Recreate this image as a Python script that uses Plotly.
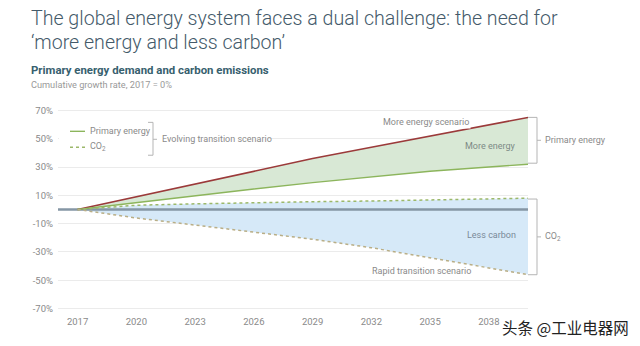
import plotly.graph_objects as go

# ---- data ----
years = [2017, 2020, 2023, 2026, 2029, 2032, 2035, 2038, 2040]
more_energy_scn = [0, 9, 18, 27, 36, 44, 52, 60, 65]
primary_et = [0, 5, 10, 14.5, 19, 23, 27, 30, 32]
co2_et = [0, 3, 4, 5, 5.5, 6, 7, 7.5, 8]
rapid_transition = [0, -6, -11, -16, -21, -27, -34, -41, -46]
x_ticks = [2017, 2020, 2023, 2026, 2029, 2032, 2035, 2038]
y_ticks = [-70, -50, -30, -10, 10, 30, 50, 70]
y_tick_text = ["-70%", "-50%", "-30%", "-10%", "10%", "30%", "50%", "70%"]

W, H = 640, 346
L, R = 58, 528
YR = (-71, 71)
PX_PER = 199 / 140.0
T = 110 - (YR[1] - 70) * PX_PER
B = 309 + (-70 - YR[0]) * PX_PER
ML, MR, MT, MB = L, W - R, T, H - B


def px(x):
    return (x - ML) / (W - ML - MR)


def py(y):
    return (H - MB - y) / (H - MT - MB)


GRAY_TXT = "#8a8a8a"
FONT = "Roboto"

fig = go.Figure()

# green fill between more energy scenario and ET primary energy
fig.add_trace(go.Scatter(x=years, y=primary_et, mode="lines", line=dict(width=0),
                         hoverinfo="skip", showlegend=False))
fig.add_trace(go.Scatter(x=years, y=more_energy_scn, mode="lines", line=dict(width=0),
                         fill="tonexty", fillcolor="#d8e8d5", hoverinfo="skip", showlegend=False))
# blue fill between CO2 ET and rapid transition
fig.add_trace(go.Scatter(x=years, y=rapid_transition, mode="lines", line=dict(width=0),
                         hoverinfo="skip", showlegend=False))
fig.add_trace(go.Scatter(x=years, y=co2_et, mode="lines", line=dict(width=0),
                         fill="tonexty", fillcolor="#d6e9f8", hoverinfo="skip", showlegend=False))

# zero line
fig.add_trace(go.Scatter(x=[2016, 2040], y=[0, 0], mode="lines",
                         line=dict(color="#8596a5", width=2.5), showlegend=False, hoverinfo="skip"))

# lines
fig.add_trace(go.Scatter(x=years, y=more_energy_scn, mode="lines",
                         line=dict(color="#9b3a3a", width=1.6), showlegend=False))
fig.add_trace(go.Scatter(x=years, y=primary_et, mode="lines",
                         line=dict(color="#8cb55c", width=1.4), showlegend=False))
fig.add_trace(go.Scatter(x=years, y=co2_et, mode="lines",
                         line=dict(color="#9cb86a", width=1.5, dash="dot"), showlegend=False))
fig.add_trace(go.Scatter(x=years, y=rapid_transition, mode="lines",
                         line=dict(color="#b9ae86", width=1.5, dash="dot"), showlegend=False))

shapes = []
ann = []


def line(x0, y0, x1, y1, color="#b5b5b5", width=1, dash="solid"):
    shapes.append(dict(type="line", xref="paper", yref="paper",
                       x0=px(x0), y0=py(y0), x1=px(x1), y1=py(y1),
                       line=dict(color=color, width=width, dash=dash)))


def text(x, y, s, size=9, color=GRAY_TXT, xanchor="left", bg=None, weight=None, **kw):
    f = dict(family=FONT, size=size, color=color)
    if weight:
        f["weight"] = weight
    d = dict(xref="paper", yref="paper", x=px(x), y=py(y), text=s, showarrow=False,
             xanchor=xanchor, yanchor="middle", font=f, **kw)
    if bg:
        d["bgcolor"] = bg
    ann.append(d)


# legend box (white background covering gridlines)
shapes.append(dict(type="rect", xref="paper", yref="paper", x0=px(59), x1=px(268),
                   y0=py(120), y1=py(157), fillcolor="white", line=dict(width=0), layer="above"))
line(70, 131, 85, 131, color="#8cb55c", width=1.4)
line(70, 147, 85, 147, color="#9cb86a", width=1.5, dash="dot")
text(88, 131, "Primary energy")
text(88, 147, "CO<sub>2</sub>")
# legend bracket
line(148, 122, 153, 122)
line(153, 122, 153, 155)
line(148, 155, 153, 155)
line(153, 139, 157, 139)
text(160, 139, "Evolving transition scenario")

# right brackets
line(528, 117, 537, 117)
line(537, 117, 537, 163)
line(528, 163, 537, 163)
line(537, 140, 541, 140)
text(543, 140, "Primary energy")

line(528, 199, 537, 199)
line(537, 199, 537, 275)
line(528, 275, 537, 275)
line(537, 237, 541, 237)
text(543, 237, "CO<sub>2</sub>")

# in-plot labels
text(426, 122, "More energy scenario", xanchor="center", bg="white")
text(490, 146, "More energy", color="#7d8a86", xanchor="center")
text(491, 235, "Less carbon", color="#7a8a99", xanchor="center")
text(421, 271, "Rapid transition scenario", xanchor="center")

# titles
text(29, 18, "The global energy system faces a dual challenge: the need for",
     size=19.6, color="#445a6a", weight=300)
text(29, 42, "‘more energy and less carbon’", size=19.6, color="#445a6a", weight=300)
text(29, 69, "<b>Primary energy demand and carbon emissions</b>", size=11.4, color="#37606e")
text(29, 84, "Cumulative growth rate, 2017 = 0%", size=9.2, color="#999999")

# watermark
ann.append(dict(xref="paper", yref="paper", x=px(565), y=py(327), text="头条 @工业电器网",
                showarrow=False, xanchor="center", yanchor="middle",
                font=dict(family="Noto Sans CJK SC", size=15.5, color="#222222")))

fig.update_layout(
    width=W, height=H,
    margin=dict(l=ML, r=MR, t=MT, b=MB),
    paper_bgcolor="white", plot_bgcolor="white",
    shapes=shapes, annotations=ann,
    showlegend=False,
    xaxis=dict(range=[2016, 2040], tickvals=x_ticks, ticktext=[str(v) for v in x_ticks],
               showgrid=False, zeroline=False, showline=False, ticks="",
               tickfont=dict(family=FONT, size=9.5, color=GRAY_TXT), ticklabelstandoff=4),
    yaxis=dict(range=list(YR), tickvals=y_ticks, ticktext=y_tick_text,
               showgrid=True, gridcolor="#ebebeb", gridwidth=1, zeroline=False,
               showline=False, ticks="",
               tickfont=dict(family=FONT, size=9.5, color=GRAY_TXT), ticklabelstandoff=4),
)

fig.write_html("out.html")
